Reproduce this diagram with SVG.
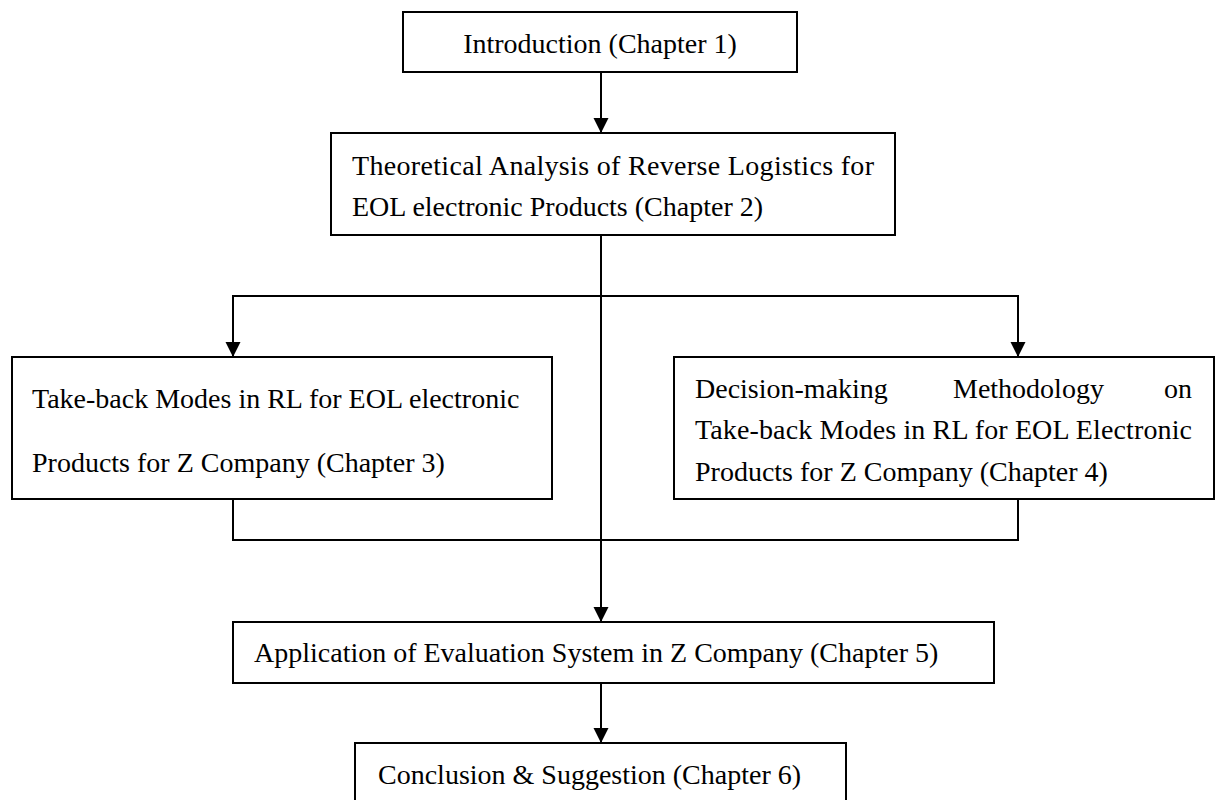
<svg xmlns="http://www.w3.org/2000/svg" width="1216" height="800" viewBox="0 0 1216 800">
<style>
.box{fill:#fff;stroke:#000;stroke-width:2}
.t{font-family:"Liberation Serif","Times New Roman",serif;font-size:28px;fill:#000}
.c{fill:none;stroke:#000;stroke-width:2}
</style>
<defs>
<marker id="ah" markerUnits="userSpaceOnUse" markerWidth="16" markerHeight="16" viewBox="0 0 16 16" refX="15" refY="8" orient="auto">
<path d="M0,0.5 L15,8 L0,15.5 Z" fill="#000"/>
</marker>
</defs>
<rect width="1216" height="800" fill="#fff"/>
<g id="connectors">
<path class="c" d="M601,72 V133" marker-end="url(#ah)"/>
<path class="c" d="M601,235 V622" marker-end="url(#ah)"/>
<path class="c" d="M601,296 H233 V357" marker-end="url(#ah)"/>
<path class="c" d="M601,296 H1018 V357" marker-end="url(#ah)"/>
<path class="c" d="M233,499 V540 H1018 V499"/>
<path class="c" d="M601,683 V743" marker-end="url(#ah)"/>
</g>
<g id="n1">
<rect class="box" x="403" y="12" width="394" height="60"/>
<text class="t" x="600" y="53" text-anchor="middle">Introduction (Chapter 1)</text>
</g>
<g id="n2">
<rect class="box" x="331" y="133" width="564" height="102"/>
<text class="t" x="352" y="175" textLength="522" lengthAdjust="spacing">Theoretical Analysis of Reverse Logistics for</text>
<text class="t" x="352" y="216">EOL electronic Products (Chapter 2)</text>
</g>
<g id="n3">
<rect class="box" x="12" y="357" width="540" height="142"/>
<text class="t" x="32" y="408">Take-back Modes in RL for EOL electronic</text>
<text class="t" x="32" y="472">Products for Z Company (Chapter 3)</text>
</g>
<g id="n4">
<rect class="box" x="674" y="357" width="540" height="142"/>
<text class="t" x="695" y="398">Decision-making</text>
<text class="t" x="953" y="398">Methodology</text>
<text class="t" x="1192" y="398" text-anchor="end">on</text>
<text class="t" x="695" y="439" textLength="497" lengthAdjust="spacing">Take-back Modes in RL for EOL Electronic</text>
<text class="t" x="695" y="481">Products for Z Company (Chapter 4)</text>
</g>
<g id="n5">
<rect class="box" x="233" y="622" width="761" height="61"/>
<text class="t" x="254" y="662">Application of Evaluation System in Z Company (Chapter 5)</text>
</g>
<g id="n6">
<rect class="box" x="355" y="743" width="491" height="61"/>
<text class="t" x="378" y="784">Conclusion &amp; Suggestion (Chapter 6)</text>
</g>
</svg>
